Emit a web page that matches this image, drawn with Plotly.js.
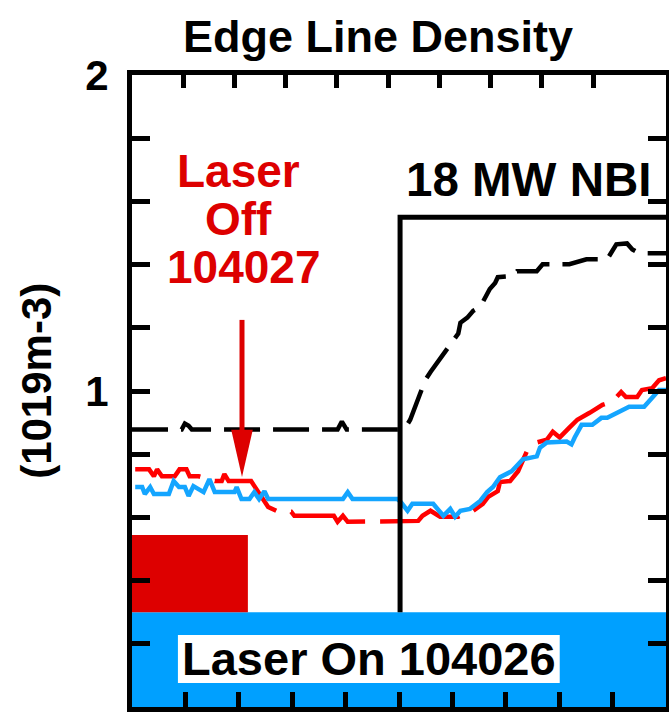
<!DOCTYPE html>
<html>
<head>
<meta charset="utf-8">
<script src="https://cdn.plot.ly/plotly-3.0.1.min.js"></script>
<style>html,body{margin:0;padding:0;background:#fff}#chart{width:669px;height:723px}</style>
</head>
<body>
<div id="chart"></div>
<script>
// ---- data (time in arbitrary units 0..10, density in 1e19 m^-3) ----
const timeNBI = [0, 0.93, 0.99, 1.06, 1.12, 3.85, 3.93, 4.02, 5.03, 5.12, 5.21, 5.36, 5.49, 5.59, 5.64, 5.77, 6.01, 6.11, 6.15, 6.28, 6.39, 6.52, 6.70, 6.80, 6.85, 7.13, 7.21, 7.32, 7.58, 7.69, 8.19, 8.51, 8.90, 9.07, 9.27, 9.37, 9.50, 10];
const densNBI = [0.878, 0.878, 0.897, 0.890, 0.878, 0.878, 0.903, 0.878, 0.878, 0.884, 0.909, 0.972, 1.034, 1.060, 1.072, 1.097, 1.160, 1.182, 1.216, 1.232, 1.254, 1.266, 1.323, 1.342, 1.360, 1.364, 1.379, 1.379, 1.379, 1.401, 1.401, 1.417, 1.417, 1.464, 1.467, 1.448, 1.436, 1.436];

const timeOff = [0.06, 0.32, 0.41, 0.47, 0.56, 0.80, 0.89, 1.02, 1.08, 1.25, 1.55, 1.68, 1.73, 1.81, 2.23, 2.33, 2.46, 2.55, 2.74, 2.98, 3.04, 3.78, 3.85, 3.95, 4.04, 4.28, 4.60, 5.03, 5.36, 5.44, 5.59, 5.77, 6.11, 6.39, 6.57, 6.67, 6.85, 6.89, 7.08, 7.23, 7.41, 7.58, 7.77, 7.88, 8.01, 8.19, 8.34, 8.57, 8.81, 8.99, 9.16, 9.25, 9.46, 9.55, 9.74, 9.87, 10];
const densOff = [0.752, 0.752, 0.730, 0.752, 0.730, 0.730, 0.752, 0.752, 0.730, 0.730, 0.715, 0.715, 0.737, 0.715, 0.715, 0.690, 0.658, 0.633, 0.618, 0.618, 0.605, 0.605, 0.586, 0.605, 0.586, 0.586, 0.586, 0.589, 0.589, 0.605, 0.621, 0.602, 0.602, 0.621, 0.643, 0.665, 0.683, 0.712, 0.715, 0.746, 0.815, 0.837, 0.846, 0.871, 0.853, 0.884, 0.909, 0.931, 0.956, 0.966, 0.997, 0.981, 0.981, 1.003, 1.009, 1.034, 1.041];

const timeOn = [0.06, 0.19, 0.24, 0.34, 0.41, 0.69, 0.78, 0.88, 0.99, 1.06, 1.15, 1.34, 1.45, 1.55, 1.92, 1.96, 2.05, 2.20, 2.29, 2.38, 2.48, 2.55, 3.95, 4.04, 4.13, 4.97, 5.03, 5.16, 5.25, 5.64, 5.83, 5.96, 6.05, 6.15, 6.33, 6.52, 6.65, 6.76, 6.89, 7.11, 7.32, 7.58, 7.64, 7.77, 8.14, 8.23, 8.29, 8.42, 8.62, 8.79, 8.90, 9.12, 9.31, 9.59, 9.74, 9.87, 10];
const densOn = [0.696, 0.696, 0.674, 0.696, 0.674, 0.674, 0.715, 0.696, 0.696, 0.668, 0.699, 0.680, 0.721, 0.680, 0.680, 0.696, 0.658, 0.658, 0.680, 0.658, 0.683, 0.658, 0.658, 0.680, 0.658, 0.658, 0.649, 0.621, 0.643, 0.643, 0.605, 0.627, 0.602, 0.621, 0.627, 0.652, 0.680, 0.696, 0.727, 0.746, 0.784, 0.793, 0.821, 0.837, 0.840, 0.831, 0.853, 0.893, 0.893, 0.915, 0.915, 0.934, 0.950, 0.950, 0.978, 1.003, 1.003];

const yTickVals = [0, 1, 2];
const yTickText = ["0", "1", "2"];
const topTickVals = [1, 2, 3, 4, 5, 6, 7, 8, 9];

const titleText = "Edge Line Density";
const yTitleText = "(1019m-3)";
const offLines = ["Laser", "Off", "104027"];
const nbiText = "18 MW NBI";
const onText = "Laser On 104026";

// ---- styles ----
const FONT = "Liberation Sans, Arial, Helvetica, sans-serif";
const RED_LINE = "#ff0000";
const RED_DARK = "#dd0000";
const BLUE_LINE = "#14a5ff";
const BLUE_FILL = "#00a0ff";

const traces = [
  {x: timeNBI, y: densNBI, mode: "lines", line: {color: "#000", width: 4.5, dash: "36px,13px"}, hoverinfo: "skip"},
  {x: timeOff, y: densOff, mode: "lines", line: {color: RED_LINE, width: 4.5, dash: "85px,15px"}, hoverinfo: "skip"},
  {x: timeOn, y: densOn, mode: "lines", line: {color: BLUE_LINE, width: 4.5}, hoverinfo: "skip"},
  {x: [-1], y: [-1], xaxis: "x2", yaxis: "y", mode: "lines", hoverinfo: "skip", showlegend: false}
];

const bold = {family: FONT, weight: "bold", color: "#000"};

const layout = {
  width: 669, height: 723,
  margin: {l: 132, r: 3, t: 75, b: 16},
  paper_bgcolor: "#fff", plot_bgcolor: "#fff",
  showlegend: false, hovermode: false,
  title: {text: titleText, font: Object.assign({}, bold, {size: 45}), x: 0.565, xanchor: "center", xref: "container", y: 1 - 36/723, yref: "container", yanchor: "middle"},
  xaxis: {
    range: [0, 10], showgrid: false, zeroline: false,
    showline: true, linecolor: "#000", linewidth: 5, mirror: true,
    ticks: "inside", dtick: 1, tick0: 0, ticklen: 15, tickwidth: 5, tickcolor: "#000",
    showticklabels: false
  },
  xaxis2: {
    range: [0, 10.42], overlaying: "x", side: "top", anchor: "y",
    showgrid: false, zeroline: false, showline: false,
    ticks: "inside", tickmode: "array", tickvals: topTickVals, ticklen: 13, tickwidth: 5, tickcolor: "#000",
    showticklabels: false
  },
  yaxis: {
    range: [0, 2], showgrid: false, zeroline: false,
    showline: true, linecolor: "#000", linewidth: 5, mirror: "allticks",
    ticks: "inside", tickmode: "array", tickvals: yTickVals, ticktext: yTickText,
    ticklen: 18, tickwidth: 5, tickcolor: "#000",
    minor: {dtick: 0.2, tick0: 0, ticks: "inside", ticklen: 11, tickwidth: 5, tickcolor: "#000", showgrid: false},
    tickfont: Object.assign({}, bold, {size: 42}),
    ticklabelstandoff: 10
  },
  shapes: [
    {type: "rect", xref: "x", yref: "y", x0: 0, x1: 10, y0: 0, y1: 0.30, fillcolor: BLUE_FILL, line: {width: 0}, layer: "below"},
    {type: "rect", xref: "x", yref: "y", x0: 0, x1: 2.17, y0: 0.30, y1: 0.544, fillcolor: RED_DARK, line: {width: 0}, layer: "below"},
    {type: "rect", xref: "x", yref: "y", x0: 0.86, x1: 8.01, y0: 0.076, y1: 0.228, fillcolor: "#fff", line: {width: 0}, layer: "below"},
    {type: "path", xref: "x", yref: "y", path: "M5.02,0.30 L5.02,1.55 L10,1.55", line: {color: "#000", width: 5}, layer: "above"},
    {type: "line", xref: "x", yref: "y", x0: 2.06, x1: 2.06, y0: 0.87, y1: 1.225, line: {color: RED_DARK, width: 5}, layer: "above"},
    {type: "path", xref: "x", yref: "y", path: "M1.858,0.877 L2.262,0.877 L2.06,0.728 Z", fillcolor: RED_DARK, line: {width: 0}, layer: "above"}
  ],
  annotations: [
    {text: offLines[0], xref: "x", yref: "y", x: 2.0, y: 1.696, showarrow: false, xanchor: "center", yanchor: "middle", font: Object.assign({}, bold, {size: 46, color: RED_DARK})},
    {text: offLines[1], xref: "x", yref: "y", x: 1.99, y: 1.544, showarrow: false, xanchor: "center", yanchor: "middle", font: Object.assign({}, bold, {size: 46, color: RED_DARK})},
    {text: offLines[2], xref: "x", yref: "y", x: 2.09, y: 1.392, showarrow: false, xanchor: "center", yanchor: "middle", font: Object.assign({}, bold, {size: 46, color: RED_DARK})},
    {text: nbiText, xref: "x", yref: "y", x: 7.42, y: 1.668, showarrow: false, xanchor: "center", yanchor: "middle", font: Object.assign({}, bold, {size: 47.5})},
    {text: onText, xref: "x", yref: "y", x: 4.43, y: 0.152, showarrow: false, xanchor: "center", yanchor: "middle", font: Object.assign({}, bold, {size: 47})},
    {text: yTitleText, xref: "paper", yref: "paper", x: -0.178, y: 0.516, showarrow: false, xanchor: "center", yanchor: "middle", textangle: -90, font: Object.assign({}, bold, {size: 42})}
  ]
};

Plotly.newPlot("chart", traces, layout, {staticPlot: true, displayModeBar: false});
</script>
</body>
</html>
